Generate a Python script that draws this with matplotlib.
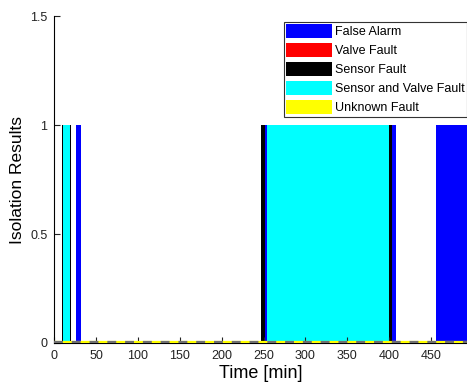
import matplotlib
matplotlib.use("Agg")
import matplotlib.pyplot as plt
from matplotlib.patches import Patch

plt.rcParams['font.family'] = ['Liberation Sans', 'DejaVu Sans']

# fault classes and their colours
classes = ["False Alarm", "Valve Fault", "Sensor Fault", "Sensor and Valve Fault", "Unknown Fault"]
class_colors = ["#0000ff", "#ff0000", "#000000", "#00ffff", "#ffff00"]

# isolation result segments (start min, end min, class index), value = 1
seg_start = [9.0, 10.0, 19.0, 26.5, 246.5, 251.5, 254.5, 400.0, 404.0, 456.0]
seg_end = [10.0, 19.0, 20.0, 32.0, 251.5, 254.5, 400.0, 404.0, 408.5, 495.0]
seg_class = [2, 3, 2, 0, 2, 0, 3, 2, 0, 0]
seg_value = [1, 1, 1, 1, 1, 1, 1, 1, 1, 1]

x_ticks = [0, 50, 100, 150, 200, 250, 300, 350, 400, 450]
y_ticks = [0, 0.5, 1, 1.5]

fig = plt.figure(figsize=(4.67, 3.88), dpi=100)
ax = fig.add_axes([0.1163, 0.116, 0.8837, 0.8427])

widths = [e - s for s, e in zip(seg_start, seg_end)]
cols = [class_colors[c] for c in seg_class]
ax.bar(seg_start, seg_value, width=widths, align='edge', color=cols,
       edgecolor='none', linewidth=0)

# zero line of the stems
ax.axhline(0.004, color='#ffff00', lw=1.6, zorder=3)
ax.axhline(0.004, color='#707070', lw=1.6, dashes=(4, 4), zorder=3)

ax.set_xlim(0, 493)
ax.set_ylim(0, 1.5)
ax.set_xticks(x_ticks)
ax.set_yticks(y_ticks)
ax.set_yticklabels(['0', '0.5', '1', '1.5'])
ax.tick_params(direction='in', length=4, labelsize=9, pad=5, colors='#222222')
ax.spines['top'].set_visible(False)
ax.spines['right'].set_visible(False)

ax.set_xlabel('Time [min]', fontsize=13, labelpad=2)
ax.set_ylabel('Isolation Results', fontsize=12.5)
ax.yaxis.set_label_coords(-0.07, 0.5)

handles = [Patch(facecolor=c, edgecolor='none') for c in class_colors]
leg = ax.legend(handles, classes, loc='upper right', bbox_to_anchor=(1.0, 0.982),
                fontsize=9, handlelength=3.7, handleheight=1.3, handletextpad=0.2,
                labelspacing=0.4, borderpad=0.2, borderaxespad=0.0,
                fancybox=False, framealpha=1)
leg.get_frame().set_edgecolor('#333333')
leg.get_frame().set_linewidth(0.8)

fig.savefig('out.png', dpi=100)
